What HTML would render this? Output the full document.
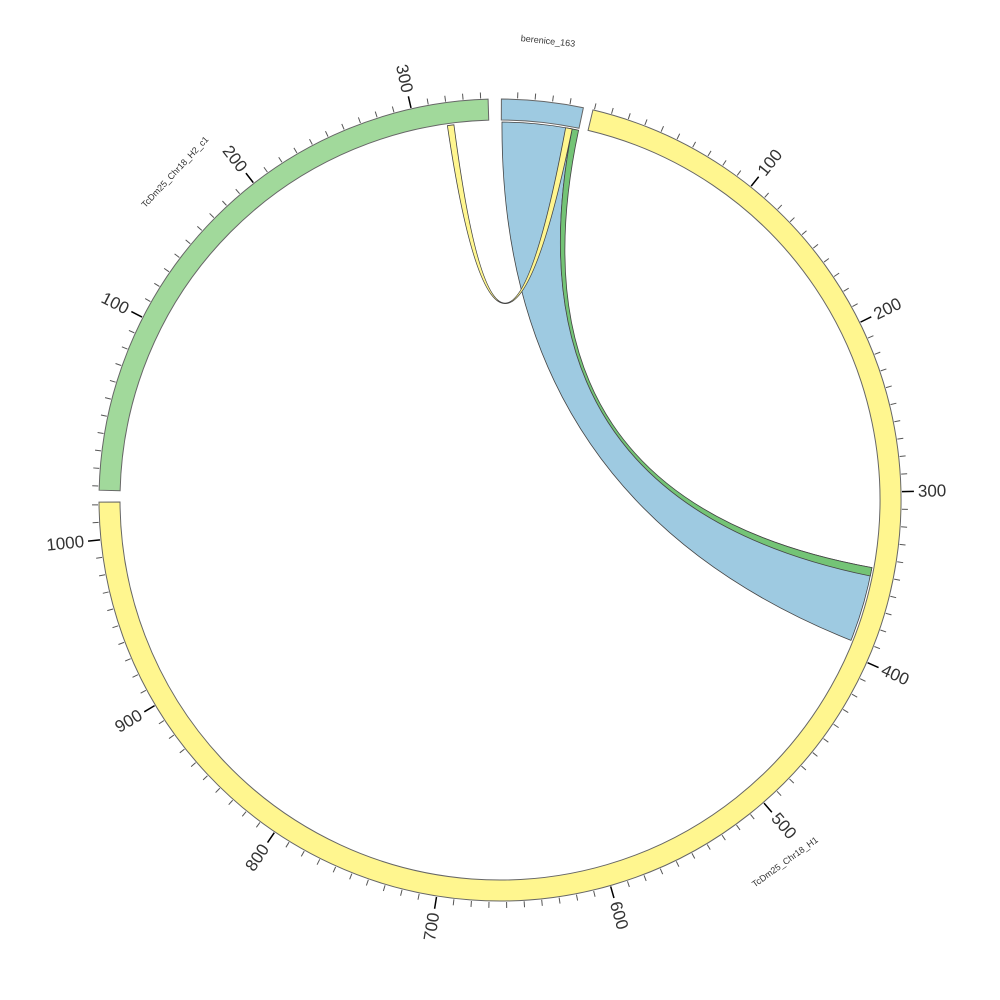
<!DOCTYPE html>
<html><head><meta charset="utf-8"><style>
html,body{margin:0;padding:0;background:#fff;}
svg{display:block;font-family:"Liberation Sans",sans-serif;}
</style></head><body>
<svg id="s" width="1000" height="1000" viewBox="0 0 1000 1000" xmlns="http://www.w3.org/2000/svg"></svg>
<script>
const cx=500,cy=500,R0=380,R1=401,RC=378,K=0.2507;
function pt(a,r){const t=a*Math.PI/180;return [cx+r*Math.sin(t),cy-r*Math.cos(t)];}
function f(p){return p[0].toFixed(2)+','+p[1].toFixed(2);}
let out='';
function seg(a1,a2,fill){
 const p1=pt(a1,R1),p2=pt(a2,R1),p3=pt(a2,R0),p4=pt(a1,R0);const lg=(a2-a1)>180?1:0;
 out+=`<path d="M${f(p1)}A${R1},${R1} 0 ${lg} 1 ${f(p2)}L${f(p3)}A${R0},${R0} 0 ${lg} 0 ${f(p4)}Z" fill="${fill}" stroke="#666" stroke-width="1"/>`;
}
function chord(a1,a2,b1,b2,fill,dy){
 dy=dy||0;const qy=cy+dy;
 const s1=pt(a1,RC),s2=pt(a2,RC),t1=pt(b1,RC),t2=pt(b2,RC);
 out+=`<path d="M${f(s1)}A${RC},${RC} 0 0 1 ${f(s2)}Q${cx},${qy} ${f(t1)}A${RC},${RC} 0 0 1 ${f(t2)}Q${cx},${qy} ${f(s1)}Z" fill="${fill}" stroke="#444" stroke-width="0.8"/>`;
}
function ticks(a0,start,end,maxu){
 for(let u=0;u<=maxu;u+=10){const a=a0+u*K;if(a<start||a>end)continue;
  const major=u%100==0&&u>0;const p=pt(a,R1+1),q=pt(a,R1+(major?13:7));
  out+=`<line x1="${p[0]}" y1="${p[1]}" x2="${q[0]}" y2="${q[1]}" stroke="${major?'#000':'#555'}" stroke-width="${major?1.5:1}"/>`;
  if(major){const lp=pt(a,R1+17);let rot,anc;if(a<180){rot=a-90;anc='start';}else{rot=a-270;anc='end';}
   out+=`<text x="${lp[0]}" y="${lp[1]}" transform="rotate(${rot} ${lp[0]} ${lp[1]})" text-anchor="${anc}" dominant-baseline="central" font-size="17" fill="#333">${u}</text>`;}
 }
}
seg(0.2,12,'#9ecae1');
seg(13.4,269.7,'#fff68f');
seg(271.4,358.3,'#a1d99b');
chord(0.3,11,100.3,111.8,'#9ecae1');
chord(11,12,100.3,101.6,'#74c476');
chord(352,353,10,11,'#fff68f',-20);
ticks(0,0.2,12,60);
ticks(13.6,13.4,269.7,1100);
ticks(272,271.4,358.3,400);
function lab(x,y,rot,t){out+=`<text x="${x}" y="${y}" transform="rotate(${rot} ${x} ${y})" text-anchor="middle" dominant-baseline="central" font-size="9" fill="#333">${t}</text>`;}
lab(548,41,6,'berenice_163');
lab(785,862,-36,'TcDm25_Chr18_H1');
lab(175,172,-47,'TcDm25_Chr18_H2_c1');
document.getElementById('s').innerHTML=out;
</script>
</body></html>
